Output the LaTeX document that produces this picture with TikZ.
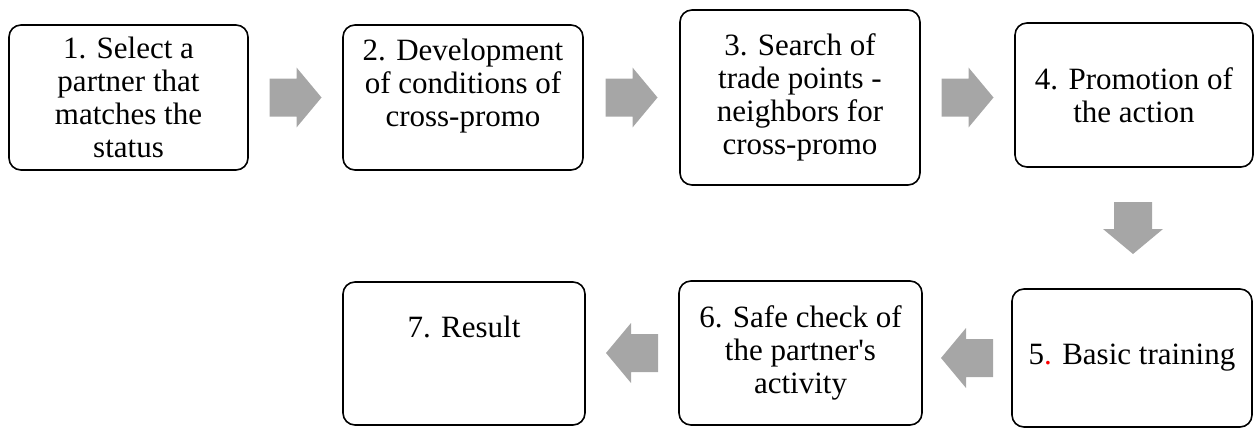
\documentclass[tikz,border=0pt]{standalone}
\usepackage{fontspec}
\setmainfont{Liberation Serif}
\usepackage{xcolor}
\usepackage{tikz}
\usetikzlibrary{calc}
\definecolor{stepgray}{HTML}{A6A6A6}
\definecolor{stepred}{HTML}{FF0000}
\tikzset{
  stage/.style={draw=black, line width=1.6pt, rounded corners=12pt, align=center, minimum width=240pt, minimum height=145pt, inner sep=2pt},
  blockarrow/.style={fill=stepgray, draw=none}
}
% block arrow pointing along +x, centred on the given coordinate
\newcommand{\flowarrow}[2]{%
  \fill[blockarrow, shift={(#1)}, rotate=#2] (-26pt,-19pt) -- (1pt,-19pt) -- (1pt,-30pt) -- (26pt,0pt) -- (1pt,30pt) -- (1pt,19pt) -- (-26pt,19pt) -- cycle;}

\begin{document}
\begin{tikzpicture}[x=1pt, y=-1pt, font=\fontsize{31}{33}\selectfont]
  \useasboundingbox (0,0) rectangle (1255,428);

  \node[stage, minimum width=239pt] (select) at (128.5,97.5) {1. Select a\\partner that\\matches the\\status};
  \node[stage] (develop) at (463,97.5) {2. Development\\of conditions of\\cross-promo\\[-14pt]\strut};
  \node[stage, minimum height=175pt] (search) at (800,97.5) {3. Search of\\trade points -\\neighbors for\\cross-promo};
  \node[stage, minimum width=238pt, minimum height=144pt] (promo) at (1134,95) {4. Promotion of\\the action};

  \node[stage, minimum height=138pt] (training) at (1132,358) {5\textcolor{stepred}{.} Basic training};
  \node[stage, minimum width=243pt, minimum height=144pt] (check) at (800.5,353) {6. Safe check of\\the partner\textquotesingle s\\activity};
  \node[stage, minimum width=242pt, minimum height=143pt] (result) at (464,353.5) {7. Result\\[11pt]\strut};

  \coordinate (a12) at ($(select.east)!0.5!(develop.west)$);
  \coordinate (a23) at ($(develop.east)!0.5!(search.west)$);
  \coordinate (a34) at ($(search.east |- select.east)!0.5!(promo.west |- select.east)$);
  \coordinate (a45) at ($(promo.south)!0.5!(training.north)$);
  \coordinate (a56) at ($(check.east |- training.west)!0.5!(training.west)$);
  \coordinate (a67) at ($(result.east |- check.west)!0.5!(check.west)$);

  \flowarrow{a12}{0}
  \flowarrow{a23}{0}
  \flowarrow{a34}{0}
  \flowarrow{a45}{-90}
  \flowarrow{a56}{180}
  \flowarrow{a67}{180}
\end{tikzpicture}
\end{document}
